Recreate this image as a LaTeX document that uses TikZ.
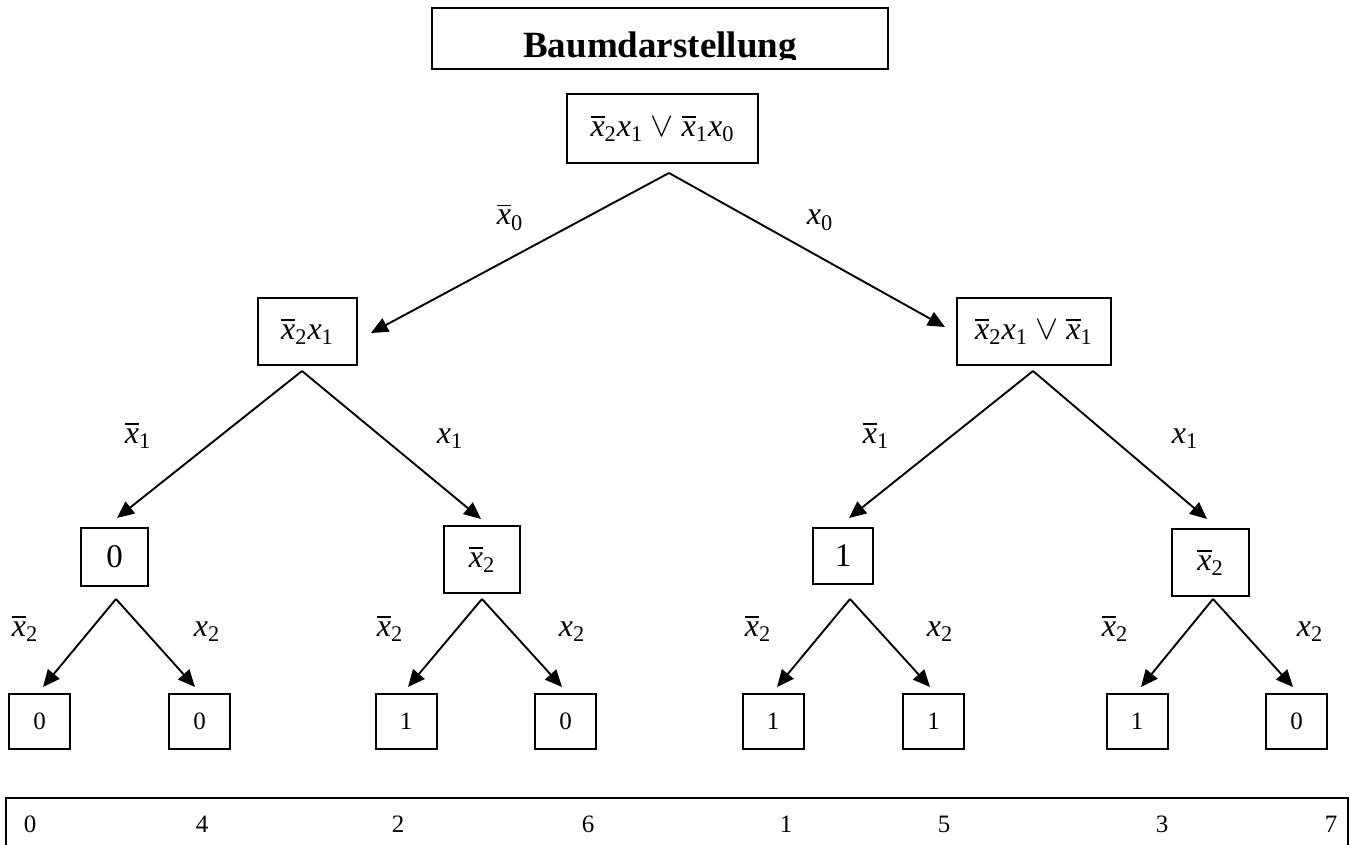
\documentclass[tikz,border=0pt]{standalone}
\usepackage{amsmath}
\usepackage{fontspec}
\setmainfont{Liberation Serif}
\usetikzlibrary{arrows.meta,calc}
\newcommand{\vX}[1]{\text{\itshape x}_{\text{#1}}}
\newcommand{\vXb}[1]{\overline{\text{\itshape x}}_{\text{#1}}}
\begin{document}
\begin{tikzpicture}[x=0.5pt,y=-0.5pt,
  box/.style={draw, line width=1pt, rectangle, inner sep=0pt},
  mth/.style={font=\fontsize{16}{19}\selectfont},
  arr/.style={line width=0.95pt, -{Triangle[length=8.5pt,width=7.5pt]}},
  lbl/.style={inner sep=0pt, anchor=base, font=\fontsize{16}{19}\selectfont},
  leaf/.style={box, minimum width=30.5pt, minimum height=27.5pt, font=\fontsize{12.5}{15}\selectfont},
  dig/.style={inner sep=0pt, anchor=base, font=\fontsize{12.5}{15}\selectfont}]
\useasboundingbox (0,0) rectangle (1350,845);

% title
\node[box, minimum width=228pt, minimum height=30.5pt] (title) at (660,38.5) {};
\begin{scope}
\clip (432,8) rectangle (888,59.5);
\node[inner sep=0pt, anchor=base, font=\fontsize{18.5}{22}\selectfont\bfseries] (titletext) at (660,57.5) {Baumdarstellung};
\end{scope}

% tree nodes
\node[box, mth, minimum width=95.5pt, minimum height=34.5pt] (root) at (662.5,128.5) {$\vXb{2}\vX{1}\vee\vXb{1}\vX{0}$};
\node[box, mth, minimum width=49.5pt, minimum height=33.5pt] (la) at (307.5,331.5) {$\vXb{2}\vX{1}$};
\node[box, mth, minimum width=77pt, minimum height=33.5pt] (lb) at (1034,331.5) {$\vXb{2}\vX{1}\vee\vXb{1}$};

\node[box, minimum width=33.5pt, minimum height=29pt, font=\fontsize{16.5}{19}\selectfont] (ma) at (114.5,557) {0};
\node[box, mth, minimum width=38pt, minimum height=33.5pt] (mb) at (482,559.5) {$\vXb{2}$};
\node[box, minimum width=30pt, minimum height=28pt, font=\fontsize{16.5}{19}\selectfont] (mc) at (843,556) {1};
\node[box, mth, minimum width=38.5pt, minimum height=33.5pt] (md) at (1210.5,562.5) {$\vXb{2}$};

\node[leaf] (e1) at (39.5,721.5) {0};
\node[leaf] (e2) at (199.5,721.5) {0};
\node[leaf] (e3) at (406,721.5) {1};
\node[leaf] (e4) at (565.5,721.5) {0};
\node[leaf] (e5) at (773,721.5) {1};
\node[leaf] (e6) at (933.5,721.5) {1};
\node[leaf] (e7) at (1137,721.5) {1};
\node[leaf] (e8) at (1296.5,721.5) {0};

% connectors
\draw[arr] ([shift={(6.5,9)}]root.south) -- ([shift={(13,1.5)}]la.east);
\draw[arr] ([shift={(6.5,9)}]root.south) -- ([shift={(-11,-4.5)}]lb.west);
\draw[arr] ([shift={(-5.5,5)}]la.south) -- ([shift={(2.5,-9)}]ma.north);
\draw[arr] ([shift={(-5.5,5)}]la.south) -- ([shift={(-1,-6)}]mb.north);
\draw[arr] ([shift={(-1,5)}]lb.south) -- ([shift={(6,-9)}]mc.north);
\draw[arr] ([shift={(-1,5)}]lb.south) -- ([shift={(-3.5,-9)}]md.north);
\draw[arr] ([shift={(1.5,12)}]ma.south) -- ([shift={(3.5,-6)}]e1.north);
\draw[arr] ([shift={(1.5,12)}]ma.south) -- ([shift={(-4.5,-6)}]e2.north);
\draw[arr] ([shift={(0,5)}]mb.south) -- ([shift={(2,-6)}]e3.north);
\draw[arr] ([shift={(0,5)}]mb.south) -- ([shift={(-3.5,-6)}]e4.north);
\draw[arr] ([shift={(7,14)}]mc.south) -- ([shift={(4,-6)}]e5.north);
\draw[arr] ([shift={(7,14)}]mc.south) -- ([shift={(-3.5,-6)}]e6.north);
\draw[arr] ([shift={(2.5,2)}]md.south) -- ([shift={(4,-6)}]e7.north);
\draw[arr] ([shift={(2.5,2)}]md.south) -- ([shift={(-3.5,-6)}]e8.north);

% edge labels
\node[lbl] (t0a) at (510,225) {$\vXb{0}$};
\node[lbl] (t0b) at (820,225) {$\vX{0}$};
\node[lbl] (t1a) at (138,443.5) {$\vXb{1}$};
\node[lbl] (t1b) at (450,443.5) {$\vX{1}$};
\node[lbl] (t1c) at (876,443.5) {$\vXb{1}$};
\node[lbl] (t1d) at (1185,443.5) {$\vX{1}$};
\node[lbl] (t2a) at (25,636.5) {$\vXb{2}$};
\node[lbl] (t2b) at (207,636.5) {$\vX{2}$};
\node[lbl] (t2c) at (390,636.5) {$\vXb{2}$};
\node[lbl] (t2d) at (572,636.5) {$\vX{2}$};
\node[lbl] (t2e) at (758,636.5) {$\vXb{2}$};
\node[lbl] (t2f) at (940,636.5) {$\vX{2}$};
\node[lbl] (t2g) at (1115,636.5) {$\vXb{2}$};
\node[lbl] (t2h) at (1310,636.5) {$\vX{2}$};

% bottom bar
\node[box, anchor=north west, minimum width=671pt, minimum height=27.5pt] (bar) at (5,797) {};
\node[dig] (b0) at (30,832) {0};
\node[dig] (b4) at (202,832) {4};
\node[dig] (b2) at (398,832) {2};
\node[dig] (b6) at (588,832) {6};
\node[dig] (b1) at (786,832) {1};
\node[dig] (b5) at (944,832) {5};
\node[dig] (b3) at (1162,832) {3};
\node[dig] (b7) at (1331,832) {7};
\end{tikzpicture}
\end{document}
